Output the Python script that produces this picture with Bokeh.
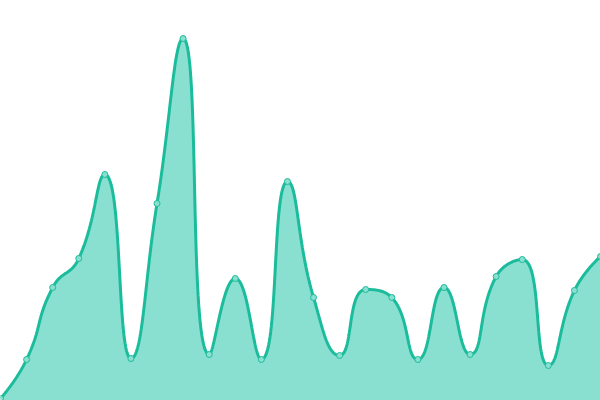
import numpy as np
from bokeh.plotting import figure
from bokeh.models import Range1d
from bokeh.embed import file_html
from bokeh.resources import INLINE

# data
x_idx = list(range(24))
values = [2, 41, 113, 142, 226, 42, 197, 362, 46, 122, 41, 219, 103, 45,
          111, 103, 41, 113, 46, 124, 141, 35, 110, 144]

LINE = "#1bbc9b"
FILL = "#8ae0d0"
W, H = 600, 400
X_MAX, Y_MAX = 23, 400


def smooth_path(xs, ys, smooth=0.5, n=40):
    """Constrained bezier smoothing (computed in screen space)."""
    sxp = np.asarray(xs, float) * W / X_MAX
    syp = np.asarray(ys, float) * H / Y_MAX
    P = np.stack([sxp, syp], axis=1)
    N = len(P)
    cp_in = [None] * N
    cp_out = [None] * N
    cp_out[0] = P[0].copy()
    cp_in[N - 1] = P[N - 1].copy()
    for i in range(1, N - 1):
        prev, cur, nxt = P[i - 1], P[i], P[i + 1]
        v = nxt - prev
        lp = np.linalg.norm(cur - prev)
        ln = np.linalg.norm(nxt - cur)
        ratio = ln / (ln + lp)
        nc = cur + v * smooth * ratio
        nc = np.minimum(nc, np.maximum(nxt, cur))
        nc = np.maximum(nc, np.minimum(nxt, cur))
        v = nc - cur
        c1 = cur - v * lp / ln
        c1 = np.minimum(c1, np.maximum(prev, cur))
        c1 = np.maximum(c1, np.minimum(prev, cur))
        v = cur - c1
        nc = cur + v * ln / lp
        cp_in[i] = c1
        cp_out[i] = nc
    ox, oy = [], []
    t = np.linspace(0, 1, n, endpoint=False)[:, None]
    for i in range(N - 1):
        a, b, c, d = P[i], cp_out[i], cp_in[i + 1], P[i + 1]
        pts = ((1 - t) ** 3) * a + 3 * ((1 - t) ** 2) * t * b + 3 * (1 - t) * t ** 2 * c + t ** 3 * d
        ox.extend(pts[:, 0]); oy.extend(pts[:, 1])
    ox.append(P[-1, 0]); oy.append(P[-1, 1])
    return np.array(ox) * X_MAX / W, np.array(oy) * Y_MAX / H


sx, sy = smooth_path(x_idx, values)

p = figure(width=W, height=H, output_backend="svg", toolbar_location=None,
           x_range=Range1d(0, X_MAX), y_range=Range1d(0, Y_MAX), min_border=0)
p.axis.visible = False
p.grid.visible = False
p.outline_line_color = None
p.background_fill_color = "white"

p.varea(x=sx, y1=np.zeros_like(sy), y2=sy, fill_color=FILL, fill_alpha=1.0)
p.line(sx, sy, line_color=LINE, line_width=3)
p.scatter(x_idx, values, size=6, fill_color=FILL, line_color=LINE, line_width=1)

html = file_html(p, INLINE)
html = html.replace("<head>", "<head><style>html,body{margin:0;padding:0;overflow:hidden}</style>", 1)
open("out.html", "w").write(html)
